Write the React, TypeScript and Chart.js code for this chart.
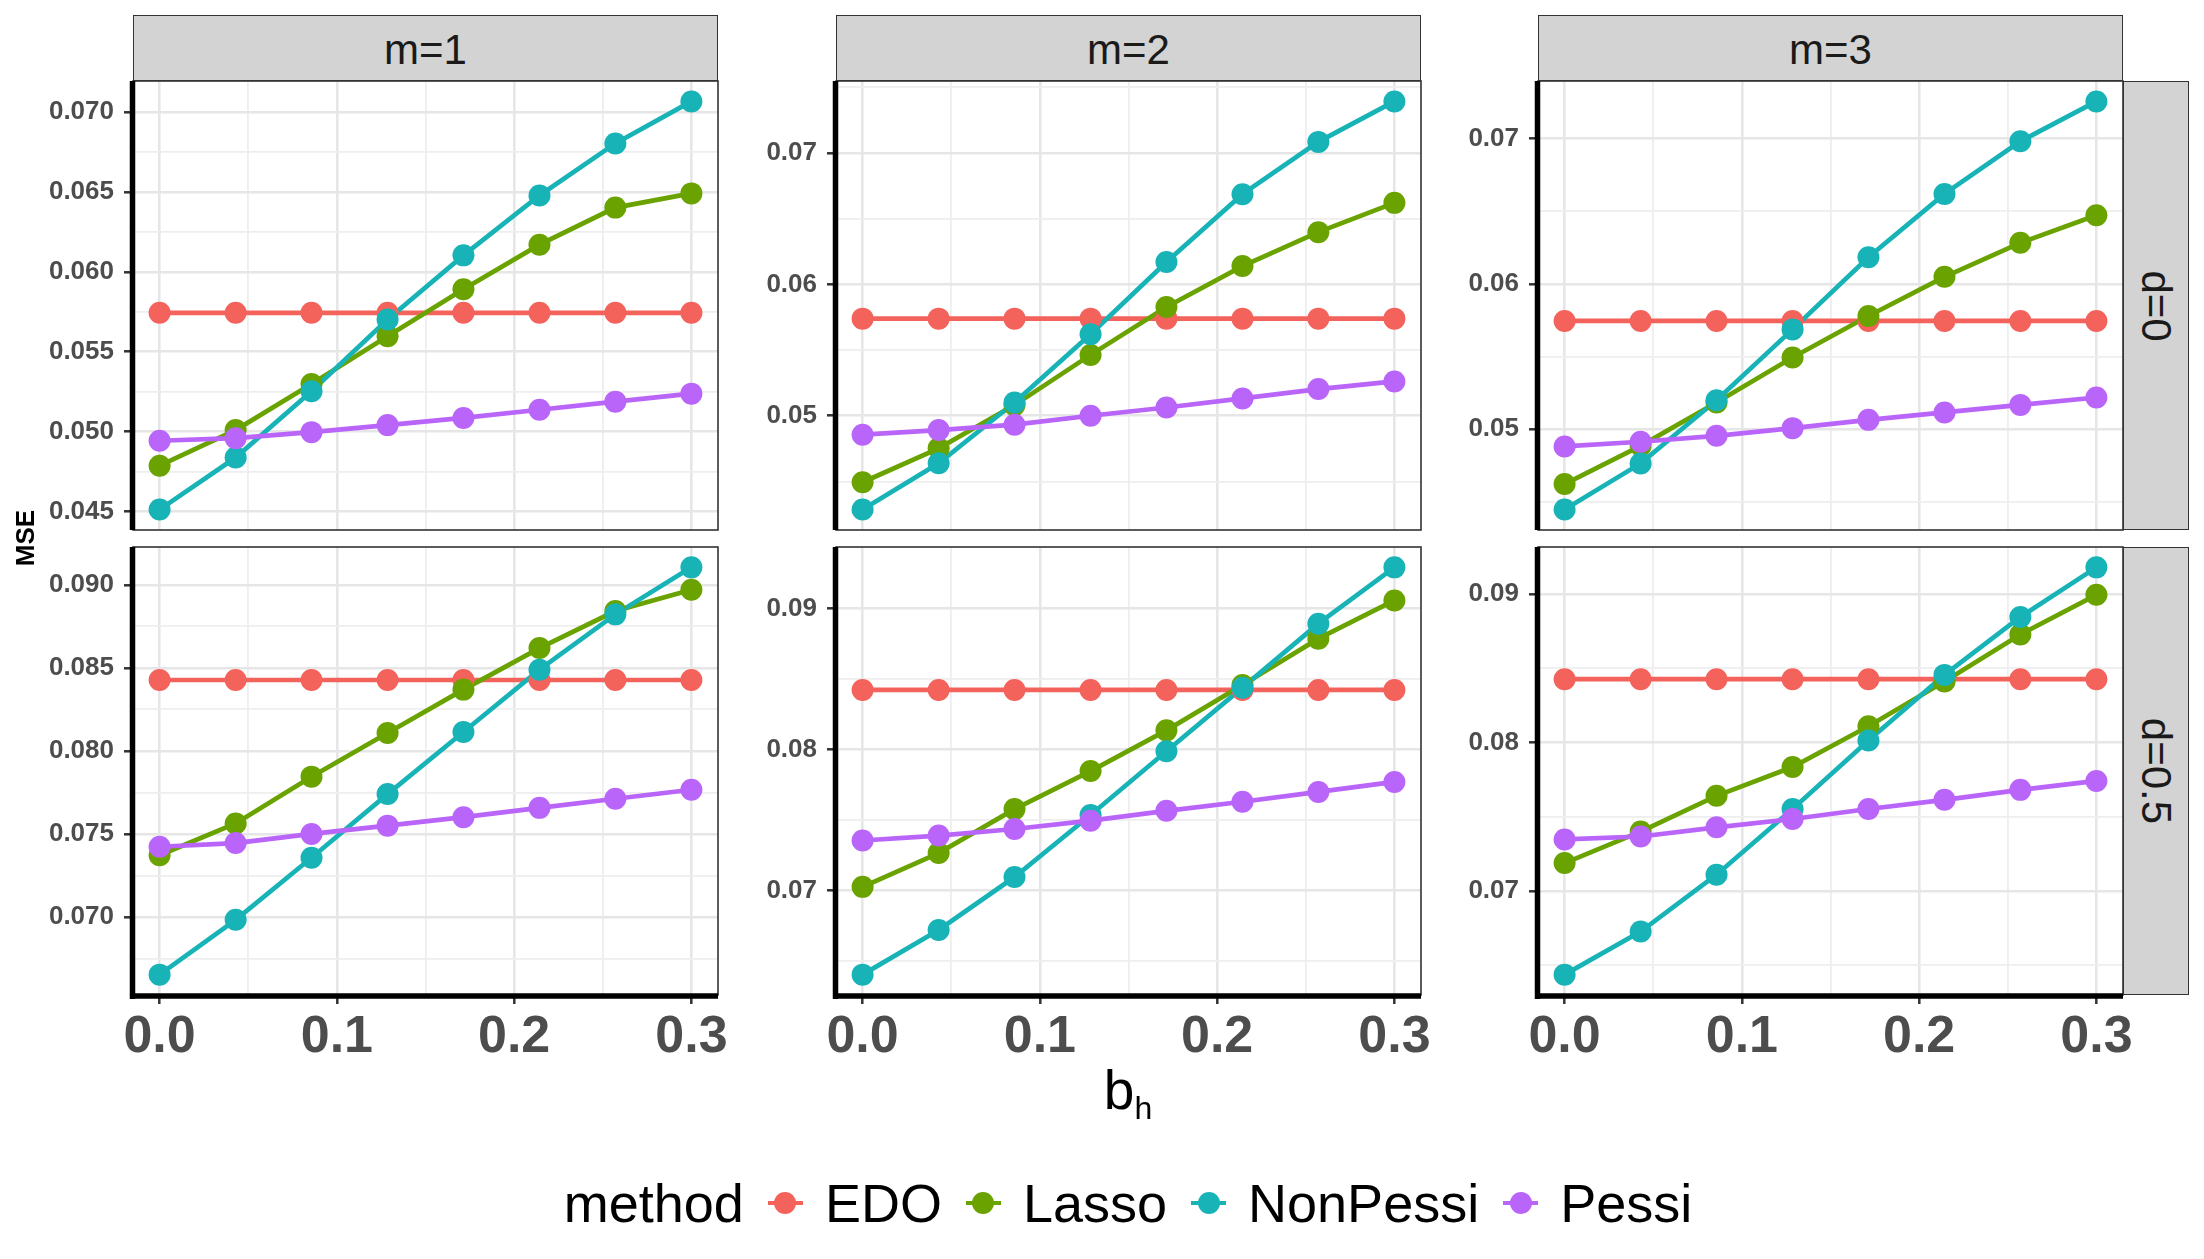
import React, { useEffect, useRef } from "react";
import { Chart, registerables } from "chart.js";

Chart.register(...registerables);

const FONT = '"Liberation Sans", Arial, Helvetica, sans-serif';

// ---------------- data ----------------
const bh = [0, 0.0429, 0.0857, 0.1286, 0.1714, 0.2143, 0.2571, 0.3];
const methods = ["EDO", "Lasso", "NonPessi", "Pessi"];
const methodColors = ["#F4625C", "#6AA300", "#18B3B7", "#BA65FA"];
const mLabels = ["m=1", "m=2", "m=3"];
const dLabels = ["d=0", "d=0.5"];
const xTickLabels = ["0.0", "0.1", "0.2", "0.3"];

// d = 0
const edo_m1_d0 = [0.05743, 0.05743, 0.05743, 0.05743, 0.05743, 0.05743, 0.05743, 0.05743];
const lasso_m1_d0 = [0.04786, 0.05009, 0.05297, 0.05596, 0.05891, 0.0617, 0.06402, 0.06491];
const nonpessi_m1_d0 = [0.04511, 0.04837, 0.05252, 0.05701, 0.06103, 0.06478, 0.06804, 0.07067];
const pessi_m1_d0 = [0.04942, 0.04958, 0.04996, 0.0504, 0.05085, 0.05136, 0.05187, 0.05237];

const edo_m2_d0 = [0.05739, 0.05739, 0.05739, 0.05739, 0.05739, 0.05739, 0.05739, 0.05739];
const lasso_m2_d0 = [0.04494, 0.04752, 0.05081, 0.05463, 0.05828, 0.06139, 0.06397, 0.0662];
const nonpessi_m2_d0 = [0.04286, 0.04638, 0.05101, 0.0562, 0.0617, 0.06686, 0.07084, 0.07392];
const pessi_m2_d0 = [0.04856, 0.04891, 0.04932, 0.05, 0.05063, 0.05132, 0.05203, 0.05261];

const edo_m3_d0 = [0.05745, 0.05745, 0.05745, 0.05745, 0.05745, 0.05745, 0.05745, 0.05745];
const lasso_m3_d0 = [0.04622, 0.04885, 0.05183, 0.05493, 0.05779, 0.06049, 0.06283, 0.06473];
const nonpessi_m3_d0 = [0.04446, 0.04764, 0.05199, 0.05687, 0.06184, 0.0662, 0.06982, 0.07257];
const pessi_m3_d0 = [0.04881, 0.04913, 0.04954, 0.05007, 0.05064, 0.05115, 0.05167, 0.05218];

// d = 0.5
const edo_m1_d05 = [0.08427, 0.08427, 0.08427, 0.08427, 0.08427, 0.08427, 0.08427, 0.08427];
const lasso_m1_d05 = [0.07372, 0.07563, 0.07845, 0.08108, 0.08369, 0.08619, 0.08842, 0.0897];
const nonpessi_m1_d05 = [0.06653, 0.06983, 0.07357, 0.0774, 0.08114, 0.08489, 0.08822, 0.09105];
const pessi_m1_d05 = [0.07423, 0.07445, 0.075, 0.0755, 0.07601, 0.07657, 0.07712, 0.07766];

const edo_m2_d05 = [0.08424, 0.08424, 0.08424, 0.08424, 0.08424, 0.08424, 0.08424, 0.08424];
const lasso_m2_d05 = [0.07026, 0.07266, 0.07578, 0.07848, 0.08137, 0.08459, 0.08788, 0.09059];
const nonpessi_m2_d05 = [0.06403, 0.0672, 0.07096, 0.07536, 0.07989, 0.0844, 0.08894, 0.09294];
const pessi_m2_d05 = [0.07355, 0.0739, 0.07437, 0.07496, 0.07566, 0.0763, 0.077, 0.07771];

const edo_m3_d05 = [0.08425, 0.08425, 0.08425, 0.08425, 0.08425, 0.08425, 0.08425, 0.08425];
const lasso_m3_d05 = [0.07187, 0.07399, 0.0764, 0.07834, 0.08108, 0.08409, 0.08726, 0.08993];
const nonpessi_m3_d05 = [0.06436, 0.06726, 0.07109, 0.07551, 0.08012, 0.08454, 0.08844, 0.09178];
const pessi_m3_d05 = [0.07346, 0.07366, 0.07428, 0.07484, 0.07551, 0.07613, 0.0768, 0.0774];

// y tick labels per panel
const yTicks_m1_d0 = ["0.045", "0.050", "0.055", "0.060", "0.065", "0.070"];
const yTicks_m2_d0 = ["0.05", "0.06", "0.07"];
const yTicks_m3_d0 = ["0.05", "0.06", "0.07"];
const yTicks_m1_d05 = ["0.070", "0.075", "0.080", "0.085", "0.090"];
const yTicks_m2_d05 = ["0.07", "0.08", "0.09"];
const yTicks_m3_d05 = ["0.07", "0.08", "0.09"];

const panelSeries = [
  [
    [edo_m1_d0, lasso_m1_d0, nonpessi_m1_d0, pessi_m1_d0],
    [edo_m2_d0, lasso_m2_d0, nonpessi_m2_d0, pessi_m2_d0],
    [edo_m3_d0, lasso_m3_d0, nonpessi_m3_d0, pessi_m3_d0],
  ],
  [
    [edo_m1_d05, lasso_m1_d05, nonpessi_m1_d05, pessi_m1_d05],
    [edo_m2_d05, lasso_m2_d05, nonpessi_m2_d05, pessi_m2_d05],
    [edo_m3_d05, lasso_m3_d05, nonpessi_m3_d05, pessi_m3_d05],
  ],
];
const panelYTicks = [
  [yTicks_m1_d0, yTicks_m2_d0, yTicks_m3_d0],
  [yTicks_m1_d05, yTicks_m2_d05, yTicks_m3_d05],
];

// ---------------- layout ----------------
const PANEL_LEFT = [133, 836, 1538];
const PANEL_W = 585;
const ROW_TOP = [81, 547];
const ROW_H = [449, 448];
const STRIP_TOP = 15;
const STRIP_H = 66;
const RSTRIP_W = 66;
const AXW = 115;
const PADT = 20;
const PADR = 45;
const PADB = 20;
const XAXH = 75;

const MAJOR_GRID = "#E6E6E6";
const MINOR_GRID = "#EEEEEE";
const TICK_TEXT = "#4D4D4D";

function expand(lo: number, hi: number) {
  const p = (hi - lo) * 0.05;
  return [lo - p, hi + p];
}

function tickSet(major: number[], min: number, max: number) {
  const step = major[1] - major[0];
  const cands = major
    .concat(major.map((v) => v - step / 2))
    .concat(major.map((v) => v + step / 2));
  const out: number[] = [];
  cands.forEach((v) => {
    if (v >= min && v <= max && !out.some((o) => Math.abs(o - v) < step * 1e-3)) out.push(v);
  });
  out.sort((a, b) => a - b);
  const idx = (v: number) => major.findIndex((m) => Math.abs(m - v) < step * 1e-3);
  return { ticks: out, idx };
}

function Panel({ row, col }: { row: number; col: number }) {
  const ref = useRef<HTMLCanvasElement>(null);
  const isBottom = row === 1;
  const left = PANEL_LEFT[col] - AXW;
  const top = ROW_TOP[row] - PADT;
  const width = AXW + PANEL_W + PADR;
  const height = PADT + ROW_H[row] + (isBottom ? XAXH : PADB);

  useEffect(() => {
    const series = panelSeries[row][col];
    const yLabels = panelYTicks[row][col];
    const yMajor = yLabels.map(Number);
    const all = series.flat();
    const [yMin, yMax] = expand(Math.min(...all), Math.max(...all));
    const ySet = tickSet(yMajor, yMin, yMax);

    const xMajor = xTickLabels.map(Number);
    const [xMin, xMax] = expand(bh[0], bh[bh.length - 1]);
    const xSet = tickSet(xMajor, xMin, xMax);

    const lineSets = series.map((data, i) => ({
      label: methods[i],
      data: bh.map((x, j) => ({ x, y: data[j] })),
      borderColor: methodColors[i],
      backgroundColor: methodColors[i],
      borderWidth: 4.7,
      pointRadius: 0,
      pointHoverRadius: 0,
      tension: 0,
      order: 8 - i,
    }));
    const pointSets = series.map((data, i) => ({
      label: methods[i] + " pts",
      data: bh.map((x, j) => ({ x, y: data[j] })),
      borderColor: methodColors[i],
      backgroundColor: methodColors[i],
      showLine: false,
      pointRadius: 11,
      pointBorderWidth: 0,
      pointHoverRadius: 11,
      order: 4 - i,
    }));

    const frame = {
      id: "frame",
      afterDatasetsDraw(chart: any) {
        const { ctx, chartArea: a } = chart;
        ctx.save();
        ctx.strokeStyle = "#333333";
        ctx.lineWidth = 1.6;
        ctx.strokeRect(a.left, a.top, a.right - a.left, a.bottom - a.top);
        ctx.strokeStyle = "#000000";
        ctx.lineWidth = 5.5;
        ctx.lineCap = "butt";
        ctx.beginPath();
        ctx.moveTo(a.left - 0.5, a.top);
        ctx.lineTo(a.left - 0.5, a.bottom + (isBottom ? 4 : 0));
        ctx.stroke();
        if (isBottom) {
          ctx.beginPath();
          ctx.moveTo(a.left - 3, a.bottom + 1);
          ctx.lineTo(a.right, a.bottom + 1);
          ctx.stroke();
        }
        ctx.restore();
      },
    };

    const chart = new Chart(ref.current as HTMLCanvasElement, {
      type: "line",
      data: { datasets: [...lineSets, ...pointSets] as any },
      options: {
        animation: false,
        responsive: false,
        maintainAspectRatio: false,
        events: [],
        layout: { padding: { left: 0, top: PADT, right: PADR, bottom: isBottom ? 0 : PADB } },
        plugins: { legend: { display: false }, tooltip: { enabled: false } },
        scales: {
          x: {
            type: "linear",
            min: xMin,
            max: xMax,
            bounds: "data",
            afterBuildTicks: (s: any) => {
              s.ticks = xSet.ticks.map((v) => ({ value: v }));
            },
            afterFit: (s: any) => {
              s.height = isBottom ? XAXH : 0;
              s.paddingLeft = 0;
              s.paddingRight = 0;
              s.paddingTop = 0;
              s.paddingBottom = 0;
            },
            border: { display: false },
            grid: {
              color: (c: any) => (xSet.idx(c.tick?.value) >= 0 ? MAJOR_GRID : MINOR_GRID),
              lineWidth: (c: any) => (xSet.idx(c.tick?.value) >= 0 ? 2.6 : 1.8),
              drawTicks: isBottom,
              tickLength: 9,
              tickWidth: 2.5,
              tickColor: (c: any) => (xSet.idx(c.tick?.value) >= 0 ? "#333333" : "rgba(0,0,0,0)"),
            },
            ticks: {
              display: isBottom,
              autoSkip: false,
              maxRotation: 0,
              minRotation: 0,
              padding: 2,
              color: TICK_TEXT,
              font: { family: FONT, size: 52, weight: "bold" },
              callback: (v: any) => {
                const k = xSet.idx(Number(v));
                return k >= 0 ? xTickLabels[k] : "";
              },
            },
          },
          y: {
            type: "linear",
            position: "left",
            min: yMin,
            max: yMax,
            bounds: "data",
            afterBuildTicks: (s: any) => {
              s.ticks = ySet.ticks.map((v) => ({ value: v }));
            },
            afterFit: (s: any) => {
              s.width = AXW;
              s.paddingTop = 0;
              s.paddingBottom = 0;
              s.paddingLeft = 0;
              s.paddingRight = 0;
            },
            border: { display: false },
            grid: {
              color: (c: any) => (ySet.idx(c.tick?.value) >= 0 ? MAJOR_GRID : MINOR_GRID),
              lineWidth: (c: any) => (ySet.idx(c.tick?.value) >= 0 ? 2.6 : 1.8),
              drawTicks: true,
              tickLength: 9,
              tickWidth: 2.5,
              tickColor: (c: any) => (ySet.idx(c.tick?.value) >= 0 ? "#333333" : "rgba(0,0,0,0)"),
            },
            ticks: {
              autoSkip: false,
              padding: 10,
              color: TICK_TEXT,
              font: { family: FONT, size: 26, weight: "bold" },
              callback: (v: any) => {
                const k = ySet.idx(Number(v));
                return k >= 0 ? yLabels[k] : "";
              },
            },
          },
        },
      } as any,
      plugins: [frame],
    });
    return () => chart.destroy();
  }, [row, col]);

  return (
    <canvas
      ref={ref}
      width={width}
      height={height}
      style={{ position: "absolute", left, top, width, height }}
    />
  );
}

const stripStyle: React.CSSProperties = {
  position: "absolute",
  boxSizing: "border-box",
  background: "#D3D3D3",
  border: "1.6px solid #333333",
  display: "flex",
  alignItems: "center",
  justifyContent: "center",
  fontFamily: FONT,
  fontSize: 42,
  color: "#1A1A1A",
  lineHeight: 1,
};

function LegendKey({ color }: { color: string }) {
  return (
    <div style={{ position: "relative", width: 35, height: 54 }}>
      <div
        style={{
          position: "absolute",
          left: 0,
          right: 0,
          top: 27 - 2.35,
          height: 4.7,
          background: color,
        }}
      />
      <div
        style={{
          position: "absolute",
          left: 17.5 - 11,
          top: 27 - 11,
          width: 22,
          height: 22,
          borderRadius: "50%",
          background: color,
        }}
      />
    </div>
  );
}

export default function App() {
  const panelsCenter = (PANEL_LEFT[0] + PANEL_LEFT[2] + PANEL_W) / 2;
  return (
    <div
      style={{
        position: "absolute",
        left: 0,
        top: 0,
        width: 2204,
        height: 1259,
        background: "#FFFFFF",
        overflow: "hidden",
        fontFamily: FONT,
      }}
    >
      {mLabels.map((m, c) => (
        <div
          key={m}
          style={{ ...stripStyle, left: PANEL_LEFT[c], top: STRIP_TOP, width: PANEL_W, height: STRIP_H, paddingTop: 3 }}
        >
          {m}
        </div>
      ))}
      {dLabels.map((d, r) => (
        <div
          key={d}
          style={{
            ...stripStyle,
            left: PANEL_LEFT[2] + PANEL_W,
            top: ROW_TOP[r],
            width: RSTRIP_W,
            height: ROW_H[r],
          }}
        >
          <div style={{ transform: "rotate(90deg)", whiteSpace: "nowrap" }}>{d}</div>
        </div>
      ))}
      {[0, 1].map((r) => [0, 1, 2].map((c) => <Panel key={r + "-" + c} row={r} col={c} />))}
      <div
        style={{
          position: "absolute",
          left: 25 - 60,
          top: (ROW_TOP[0] + ROW_TOP[1] + ROW_H[1]) / 2 - 15,
          width: 120,
          height: 30,
          lineHeight: "30px",
          textAlign: "center",
          transform: "rotate(-90deg)",
          fontWeight: "bold",
          fontSize: 26,
          color: "#000",
        }}
      >
        MSE
      </div>
      <div
        style={{
          position: "absolute",
          left: panelsCenter - 200,
          width: 400,
          top: 1063,
          textAlign: "center",
          fontSize: 55,
          lineHeight: 1,
          color: "#000",
        }}
      >
        b<span style={{ fontSize: 32, position: "relative", top: 10 }}>h</span>
      </div>
      <div
        style={{
          position: "absolute",
          left: panelsCenter - 800,
          width: 1600,
          top: 1176,
          height: 54,
          display: "flex",
          justifyContent: "center",
          alignItems: "center",
          fontSize: 54,
          lineHeight: 1,
          color: "#000",
        }}
      >
        <span style={{ marginRight: 24 }}>method</span>
        {methods.map((m, i) => (
          <React.Fragment key={m}>
            <LegendKey color={methodColors[i]} />
            <span style={{ marginLeft: 22, marginRight: i < methods.length - 1 ? 24 : 0 }}>{m}</span>
          </React.Fragment>
        ))}
      </div>
    </div>
  );
}
